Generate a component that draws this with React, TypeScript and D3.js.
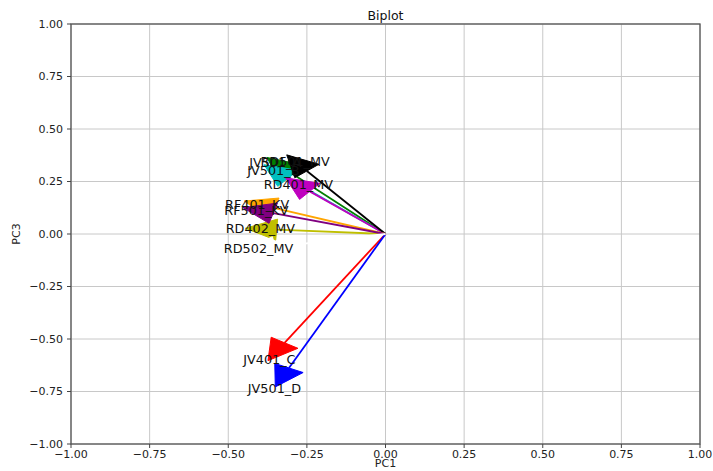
import { useEffect, useRef } from "react"
import * as d3 from "d3"

// loadings (arrow base = vector end, head added past it)
const labels = ['JV401_C', 'JV501_D', 'JV501_A', 'JV501_B', 'RD401_MV', 'RD402_MV', 'RD501_MV', 'RF401_KV', 'RF501_KV', 'RD502_MV']
const pc1 = [-0.321, -0.307, -0.305, -0.310, -0.241, -0.346, -0.250, -0.355, -0.357, -0.351]
const pc3 = [-0.518, -0.638, 0.295, 0.265, 0.203, 0.021, 0.300, 0.124, 0.099, -0.062]
const colors = ['#ff0000', '#0000ff', '#008000', '#00bfbf', '#bf00bf', '#bfbf00', '#000000', '#ffa500', '#800080', '#ffffff']
const ticks = [-1, -0.75, -0.5, -0.25, 0, 0.25, 0.5, 0.75, 1]

export default function App() {
    const ref = useRef<SVGSVGElement>(null)

    useEffect(() => {
        document.body.style.margin = '0'
        const width = 713
        const height = 471
        const margin = { top: 24, left: 71, right: 13, bottom: 27 }
        const font = 'DejaVu Sans, sans-serif'
        const headWidth = 0.1
        const headLength = 0.1

        const x = d3.scaleLinear().domain([-1, 1]).range([margin.left, width - margin.right])
        const y = d3.scaleLinear().domain([-1, 1]).range([height - margin.bottom, margin.top])

        const svg = d3.select(ref.current)
        svg.selectAll('*').remove()
        svg.attr('width', width).attr('height', height)

        svg.append('rect').attr('width', width).attr('height', height).attr('fill', 'white')

        // grid
        const grid = svg.append('g').attr('stroke', '#c8c8c8').attr('stroke-width', 1)
        ticks.forEach(t => {
            grid.append('line').attr('x1', x(t)).attr('x2', x(t)).attr('y1', y(-1)).attr('y2', y(1))
            grid.append('line').attr('y1', y(t)).attr('y2', y(t)).attr('x1', x(-1)).attr('x2', x(1))
        })

        // arrows
        const arrows = svg.append('g')
        labels.forEach((_, i) => {
            const dx = pc1[i]
            const dy = pc3[i]
            const len = Math.hypot(dx, dy)
            const ux = dx / len
            const uy = dy / len
            const px = -uy
            const py = ux
            const tip: [number, number] = [dx + ux * headLength, dy + uy * headLength]
            const c1: [number, number] = [dx + px * headWidth / 2, dy + py * headWidth / 2]
            const c2: [number, number] = [dx - px * headWidth / 2, dy - py * headWidth / 2]
            arrows.append('line')
                .attr('x1', x(0)).attr('y1', y(0))
                .attr('x2', x(dx)).attr('y2', y(dy))
                .attr('stroke', colors[i]).attr('stroke-width', 1.8)
            arrows.append('polygon')
                .attr('points', [tip, c1, c2].map(p => `${x(p[0])},${y(p[1])}`).join(' '))
                .attr('fill', colors[i]).attr('stroke', colors[i]).attr('stroke-width', 1)
        })

        // labels
        labels.forEach((l, i) => {
            svg.append('text')
                .attr('x', x(pc1[i] * 1.15)).attr('y', y(pc3[i] * 1.15))
                .attr('text-anchor', 'middle').attr('dominant-baseline', 'central')
                .attr('font-family', font).attr('font-size', 12.8).attr('fill', '#111')
                .text(l)
        })

        // frame
        svg.append('rect')
            .attr('x', x(-1)).attr('y', y(1))
            .attr('width', x(1) - x(-1)).attr('height', y(-1) - y(1))
            .attr('fill', 'none').attr('stroke', '#555').attr('stroke-width', 1.3)

        const fmt = (t: number) => t.toFixed(2).replace('-', '\u2212')
        const axes = svg.append('g').attr('font-family', font).attr('font-size', 11).attr('fill', '#222')
        ticks.forEach(t => {
            axes.append('line').attr('x1', x(t)).attr('x2', x(t)).attr('y1', y(-1)).attr('y2', y(-1) + 4)
                .attr('stroke', '#444')
            axes.append('text').attr('x', x(t)).attr('y', y(-1) + 14).attr('text-anchor', 'middle').text(fmt(t))
            axes.append('line').attr('x1', x(-1) - 4).attr('x2', x(-1)).attr('y1', y(t)).attr('y2', y(t))
                .attr('stroke', '#444')
            axes.append('text').attr('x', x(-1) - 8).attr('y', y(t)).attr('dy', '0.35em')
                .attr('text-anchor', 'end').text(fmt(t))
        })

        axes.append('text').attr('x', x(0)).attr('y', height - 4).attr('text-anchor', 'middle').text('PC1')
        axes.append('text').attr('transform', `translate(20, ${y(0)}) rotate(-90)`)
            .attr('text-anchor', 'middle').text('PC3')
        svg.append('text').attr('x', x(0)).attr('y', 20).attr('text-anchor', 'middle')
            .attr('font-family', font).attr('font-size', 12.5).attr('fill', '#111').text('Biplot')
    })

    return (
        <svg ref={ref} style={{ display: 'block' }}></svg>
    )
}
